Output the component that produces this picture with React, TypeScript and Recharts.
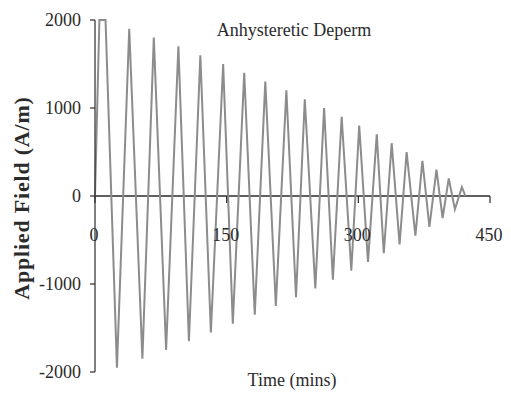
import React from "react";
import { LineChart, Line, XAxis, YAxis, ReferenceLine, ReferenceDot } from "recharts";

// time (mins) of each turning point of the deperm field
const times = [
  0, 5, 12, 25, 39, 54, 67, 81, 95, 107, 120, 132, 146, 157, 170, 182, 194, 206,
  218, 229, 239, 251, 261, 271, 281, 292, 301, 311, 321, 329, 338, 347, 355,
  365, 373, 381, 389, 396, 403, 410, 418, 422,
];

// applied field (A/m) at each turning point
const fields = [
  0, 2000, 2000, -1950, 1900, -1850, 1800, -1750, 1700, -1650, 1600, -1550,
  1500, -1450, 1400, -1350, 1300, -1250, 1200, -1150, 1100, -1050, 1000, -950,
  900, -850, 800, -750, 700, -650, 600, -550, 500, -450, 400, -350, 300, -250,
  200, -150, 100, 0,
];

const xTicks = [0, 150, 300, 450];
const yTicks = [-2000, -1000, 0, 1000, 2000];

const data = times.map((t, i) => ({ t, h: fields[i] }));

const FONT = "'Liberation Serif', 'Times New Roman', serif";
const INK = "#2b2b2b";

// tick mark + label hanging under the zero line
function XTick(props: any) {
  const { cx, cy, value } = props;
  return (
    <g>
      <line x1={cx} y1={cy} x2={cx} y2={cy + 7} stroke={INK} strokeWidth={1.2} />
      <text
        x={cx - 1}
        y={cy + 45}
        textAnchor="middle"
        fill={INK}
        fontSize={18}
        fontFamily={FONT}
      >
        {value}
      </text>
    </g>
  );
}

export default function App() {
  return (
    <div
      style={{
        position: "absolute",
        left: 0,
        top: 0,
        width: 511,
        height: 394,
        background: "#fff",
        fontFamily: FONT,
        color: INK,
      }}
    >
      <LineChart
        width={511}
        height={394}
        data={data}
        margin={{ top: 20, right: 21, bottom: 22, left: 0 }}
      >
        <XAxis type="number" dataKey="t" domain={[0, 450]} ticks={xTicks} hide />
        <YAxis
          type="number"
          domain={[-2000, 2000]}
          ticks={yTicks}
          width={95}
          tickSize={5}
          tickMargin={9}
          axisLine={{ stroke: INK, strokeWidth: 1.2 }}
          tickLine={{ stroke: INK, strokeWidth: 1.2 }}
          tick={{ fill: INK, fontSize: 18, fontFamily: FONT }}
        />
        <ReferenceLine y={0} stroke={INK} strokeWidth={1.5} />
        {xTicks.map((t) => (
          <ReferenceDot
            key={t}
            x={t}
            y={0}
            r={0}
            ifOverflow="visible"
            shape={(p: any) => <XTick {...p} value={t} />}
          />
        ))}
        <Line
          type="linear"
          dataKey="h"
          stroke="#8c8c8c"
          strokeWidth={2}
          dot={false}
          isAnimationActive={false}
        />
      </LineChart>

      <div
        style={{
          position: "absolute",
          left: 194,
          top: 20,
          width: 200,
          lineHeight: "20px",
          fontSize: 18,
          textAlign: "center",
          whiteSpace: "nowrap",
        }}
      >
        Anhysteretic Deperm
      </div>

      <div
        style={{
          position: "absolute",
          left: 192,
          top: 370,
          width: 200,
          lineHeight: "20px",
          fontSize: 18,
          textAlign: "center",
          whiteSpace: "nowrap",
        }}
      >
        Time (mins)
      </div>

      <div
        style={{
          position: "absolute",
          left: 22,
          top: 198,
          transform: "translate(-50%, -50%) rotate(-90deg)",
          fontSize: 22,
          fontWeight: "bold",
          letterSpacing: 0.8,
          lineHeight: "24px",
          whiteSpace: "nowrap",
        }}
      >
        Applied Field (A/m)
      </div>
    </div>
  );
}
